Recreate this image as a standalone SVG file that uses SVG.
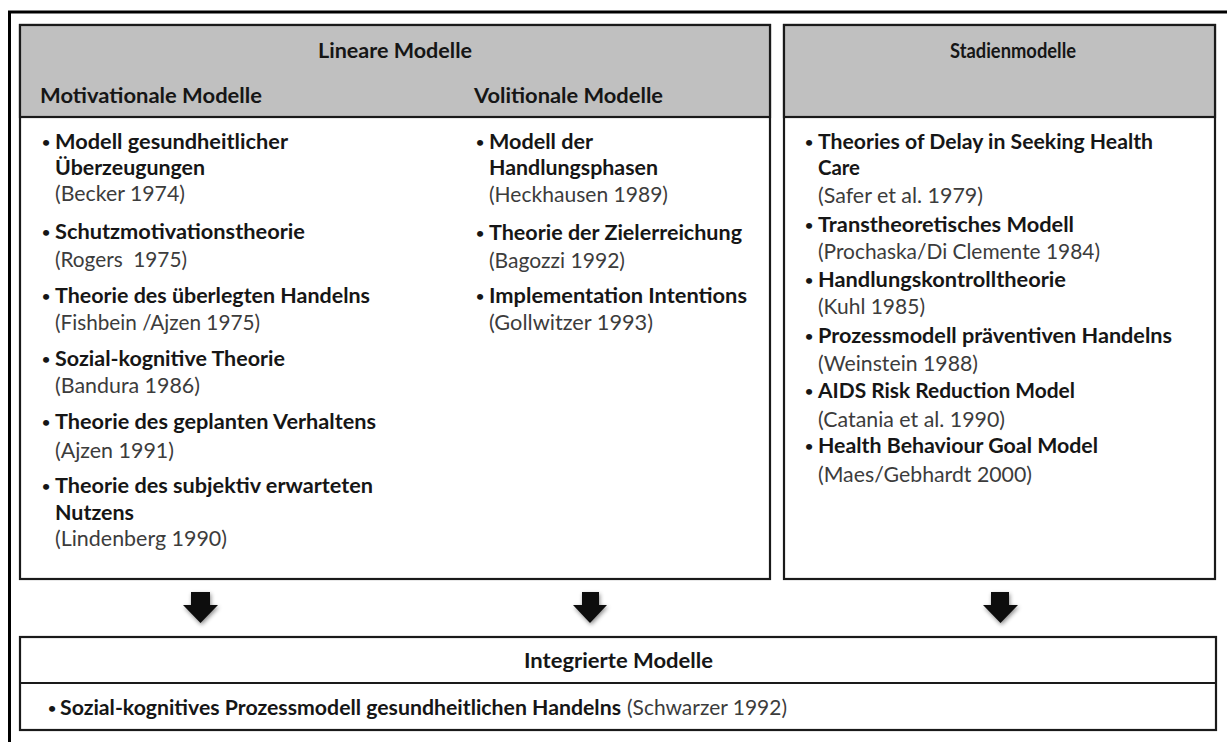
<svg xmlns="http://www.w3.org/2000/svg" width="1227" height="742" viewBox="0 0 1227 742">
<style>
.box{fill:#ffffff;stroke:#1a1a1a;stroke-width:2.2}
.hdr{fill:#c0c0c0;stroke:#1a1a1a;stroke-width:2.2}
.ln{stroke:#1a1a1a;stroke-width:2.2;fill:none}
text{font-family:Lato,"Open Sans","Liberation Sans",sans-serif;font-size:20.5px}
.b{font-weight:bold;fill:#161616}
.r{font-weight:normal;fill:#3c3c3c}
.bul{font-weight:bold;fill:#161616;font-size:14px}
.arrow{fill:#111111;filter:url(#sh)}
</style>
<defs>
<filter id="sh" x="-50%" y="-50%" width="200%" height="200%">
<feDropShadow dx="1" dy="2" stdDeviation="2" flood-color="#000000" flood-opacity="0.45"/>
</filter>
</defs>
<rect x="0" y="0" width="1227" height="742" fill="#ffffff"/>
<path d="M9.5,742 V12 H1227" fill="none" stroke="#000000" stroke-width="3"/>

<g id="lineare">
<rect class="box" x="20" y="25" width="750" height="554"/>
<rect class="hdr" x="20" y="25" width="750" height="92"/>
<text class="b" x="318" y="58" textLength="154" lengthAdjust="spacingAndGlyphs">Lineare Modelle</text>
<text class="b" x="40" y="103" textLength="222" lengthAdjust="spacingAndGlyphs">Motivationale Modelle</text>
<text class="b" x="474" y="103" textLength="189" lengthAdjust="spacingAndGlyphs">Volitionale Modelle</text>
</g>

<g id="motivational-list">
<text class="bul" x="42" y="147">•</text>
<text class="b" x="55" y="149" textLength="233" lengthAdjust="spacingAndGlyphs">Modell gesundheitlicher</text>
<text class="b" x="55" y="175" textLength="150" lengthAdjust="spacingAndGlyphs">Überzeugungen</text>
<text class="r" x="55" y="201" textLength="130" lengthAdjust="spacingAndGlyphs">(Becker 1974)</text>
<text class="bul" x="42" y="237">•</text>
<text class="b" x="55" y="239" textLength="250" lengthAdjust="spacingAndGlyphs">Schutzmotivationstheorie</text>
<text class="r" x="55" y="267" textLength="132" lengthAdjust="spacingAndGlyphs" xml:space="preserve">(Rogers  1975)</text>
<text class="bul" x="42" y="301">•</text>
<text class="b" x="55" y="303" textLength="315" lengthAdjust="spacingAndGlyphs">Theorie des überlegten Handelns</text>
<text class="r" x="55" y="330" textLength="205" lengthAdjust="spacingAndGlyphs">(Fishbein /Ajzen 1975)</text>
<text class="bul" x="42" y="364">•</text>
<text class="b" x="55" y="366" textLength="230" lengthAdjust="spacingAndGlyphs">Sozial-kognitive Theorie</text>
<text class="r" x="55" y="393" textLength="145" lengthAdjust="spacingAndGlyphs">(Bandura 1986)</text>
<text class="bul" x="42" y="427">•</text>
<text class="b" x="55" y="429" textLength="321" lengthAdjust="spacingAndGlyphs">Theorie des geplanten Verhaltens</text>
<text class="r" x="55" y="458" textLength="119" lengthAdjust="spacingAndGlyphs">(Ajzen 1991)</text>
<text class="bul" x="42" y="491">•</text>
<text class="b" x="55" y="493" textLength="318" lengthAdjust="spacingAndGlyphs">Theorie des subjektiv erwarteten</text>
<text class="b" x="55" y="520" textLength="79" lengthAdjust="spacingAndGlyphs">Nutzens</text>
<text class="r" x="55" y="546" textLength="172" lengthAdjust="spacingAndGlyphs">(Lindenberg 1990)</text>
</g>

<g id="volitional-list">
<text class="bul" x="476" y="147">•</text>
<text class="b" x="489" y="149" textLength="104" lengthAdjust="spacingAndGlyphs">Modell der</text>
<text class="b" x="489" y="175" textLength="169" lengthAdjust="spacingAndGlyphs">Handlungsphasen</text>
<text class="r" x="489" y="202" textLength="179" lengthAdjust="spacingAndGlyphs">(Heckhausen 1989)</text>
<text class="bul" x="476" y="238">•</text>
<text class="b" x="489" y="240" textLength="253" lengthAdjust="spacingAndGlyphs">Theorie der Zielerreichung</text>
<text class="r" x="489" y="268" textLength="136" lengthAdjust="spacingAndGlyphs">(Bagozzi 1992)</text>
<text class="bul" x="476" y="301">•</text>
<text class="b" x="489" y="303" textLength="258" lengthAdjust="spacingAndGlyphs">Implementation Intentions</text>
<text class="r" x="489" y="330" textLength="164" lengthAdjust="spacingAndGlyphs">(Gollwitzer 1993)</text>
</g>

<g id="stadien">
<rect class="box" x="784" y="25" width="431" height="554"/>
<rect class="hdr" x="784" y="25" width="431" height="92"/>
<text class="b" x="950" y="58" textLength="126" lengthAdjust="spacingAndGlyphs">Stadienmodelle</text>
<text class="bul" x="805" y="147">•</text>
<text class="b" x="818" y="149" textLength="335" lengthAdjust="spacingAndGlyphs">Theories of Delay in Seeking Health</text>
<text class="b" x="818" y="175" textLength="42" lengthAdjust="spacingAndGlyphs">Care</text>
<text class="r" x="818" y="203" textLength="165" lengthAdjust="spacingAndGlyphs">(Safer et al. 1979)</text>
<text class="bul" x="805" y="230">•</text>
<text class="b" x="818" y="232" textLength="256" lengthAdjust="spacingAndGlyphs">Transtheoretisches Modell</text>
<text class="r" x="818" y="259" textLength="282" lengthAdjust="spacingAndGlyphs">(Prochaska/Di Clemente 1984)</text>
<text class="bul" x="805" y="285">•</text>
<text class="b" x="818" y="287" textLength="248" lengthAdjust="spacingAndGlyphs">Handlungskontrolltheorie</text>
<text class="r" x="818" y="314" textLength="107" lengthAdjust="spacingAndGlyphs">(Kuhl 1985)</text>
<text class="bul" x="805" y="341">•</text>
<text class="b" x="818" y="343" textLength="354" lengthAdjust="spacingAndGlyphs">Prozessmodell präventiven Handelns</text>
<text class="r" x="818" y="371" textLength="160" lengthAdjust="spacingAndGlyphs">(Weinstein 1988)</text>
<text class="bul" x="805" y="396">•</text>
<text class="b" x="818" y="398" textLength="257" lengthAdjust="spacingAndGlyphs">AIDS Risk Reduction Model</text>
<text class="r" x="818" y="427" textLength="187" lengthAdjust="spacingAndGlyphs">(Catania et al. 1990)</text>
<text class="bul" x="805" y="451">•</text>
<text class="b" x="818" y="453" textLength="280" lengthAdjust="spacingAndGlyphs">Health Behaviour Goal Model</text>
<text class="r" x="818" y="482" textLength="214" lengthAdjust="spacingAndGlyphs">(Maes/Gebhardt 2000)</text>
</g>

<g id="connectors">
<path class="arrow" d="M191,592 H210 V605 H218 L200.5,623 L183,605 H191 Z"/>
<path class="arrow" d="M582,592 H599 V605 H607 L590,623 L573,605 H582 Z"/>
<path class="arrow" d="M991,592 H1009 V605 H1018 L1000.5,623 L983,605 H991 Z"/>
</g>

<g id="integrierte">
<rect class="box" x="20" y="637" width="1196" height="93"/>
<line class="ln" x1="20" y1="683" x2="1216" y2="683"/>
<text class="b" x="524" y="668" textLength="189" lengthAdjust="spacingAndGlyphs">Integrierte Modelle</text>
<text class="bul" x="48" y="713">•</text>
<text class="b" x="60" y="715" textLength="561" lengthAdjust="spacingAndGlyphs">Sozial-kognitives Prozessmodell gesundheitlichen Handelns</text>
<text class="r" x="627" y="715" textLength="160" lengthAdjust="spacingAndGlyphs">(Schwarzer 1992)</text>
</g>
</svg>
